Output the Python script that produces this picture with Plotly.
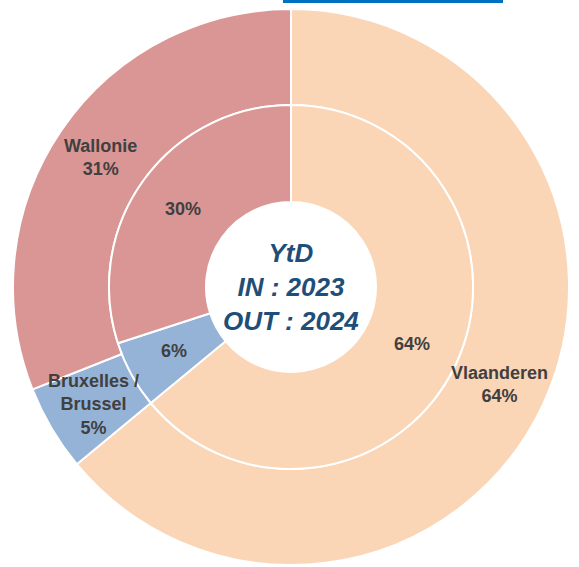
import math
import plotly.graph_objects as go

regions = ["Vlaanderen", "Bruxelles /<br>Brussel", "Wallonie"]
outer_values = [64, 5, 31]   # OUT : 2024
inner_values = [64, 6, 30]   # IN : 2023
colors = ["#FAD5B6", "#95B3D7", "#D99694"]

font_fam = "Liberation Sans, Arial, sans-serif"

R_OUT = 278.0
R_MID = 182.0
R_HOLE = 85.0
SIDE = 2 * R_OUT

fig = go.Figure()

fig.add_trace(go.Pie(
    labels=regions, values=outer_values, sort=False, direction="clockwise", rotation=0,
    hole=R_MID / R_OUT, domain=dict(x=[0, 1], y=[0, 1]),
    marker=dict(colors=colors, line=dict(color="white", width=2)),
    textinfo="none", hoverinfo="label+value", showlegend=False, name="OUT : 2024",
))

r_in = R_MID / R_OUT
fig.add_trace(go.Pie(
    labels=regions, values=inner_values, sort=False, direction="clockwise", rotation=0,
    hole=R_HOLE / R_MID, domain=dict(x=[0.5 - r_in / 2, 0.5 + r_in / 2], y=[0.5 - r_in / 2, 0.5 + r_in / 2]),
    marker=dict(colors=colors, line=dict(color="white", width=2)),
    textinfo="none", hoverinfo="label+value", showlegend=False, name="IN : 2023",
))


def ring_labels(values, texts, r0, r1):
    total = float(sum(values))
    anns = []
    cum = 0.0
    rm = (r0 + r1) / 2 / SIDE
    for v, t in zip(values, texts):
        frac = (cum + v / 2) / total
        th = 2 * math.pi * frac
        anns.append(dict(
            text="<b>" + t + "</b>", x=0.5 + rm * math.sin(th), y=0.5 + rm * math.cos(th),
            xref="paper", yref="paper", xanchor="center", yanchor="middle", showarrow=False,
            font=dict(family=font_fam, size=18, color="#404040"),
        ))
        cum += v
    return anns


annotations = []
annotations += ring_labels(outer_values, [f"{l}<br>{v}%" for l, v in zip(regions, outer_values)], R_MID, R_OUT)
annotations += ring_labels(inner_values, [f"{v}%" for v in inner_values], R_HOLE, R_MID)
annotations.append(dict(
    text="<b><i>YtD<br>IN : 2023<br>OUT : 2024</i></b>",
    x=0.5, y=0.5, xref="paper", yref="paper", xanchor="center", yanchor="middle", showarrow=False,
    font=dict(family=font_fam, size=26, color="#1F4E79"),
))

fig.update_layout(
    width=579, height=567,
    margin=dict(l=13, r=10, t=9, b=2),
    paper_bgcolor="white", plot_bgcolor="white",
    annotations=annotations,
    shapes=[dict(type="line", xref="paper", yref="paper",
                 x0=(283 - 13) / SIDE, x1=(503 - 13) / SIDE, y0=1 + 7.5 / SIDE, y1=1 + 7.5 / SIDE,
                 line=dict(color="#0070C0", width=3))],
)

fig.write_html("out.html", config={"displayModeBar": False},
               post_script="document.body.style.margin='0';")
